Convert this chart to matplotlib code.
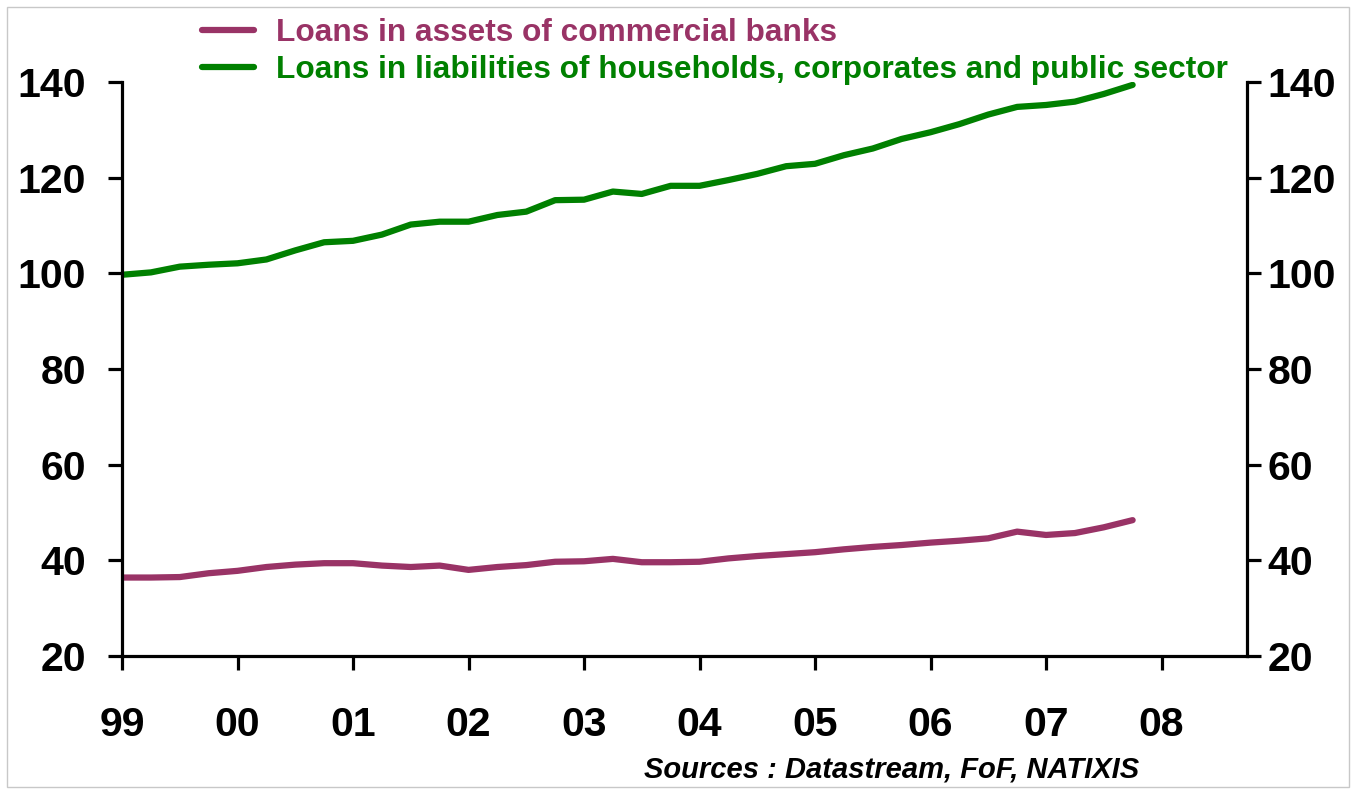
import numpy as np
import matplotlib
matplotlib.use("Agg")
import matplotlib.pyplot as plt
from matplotlib.patches import Rectangle

plt.rcParams["font.family"] = ["Liberation Sans", "DejaVu Sans"]
plt.rcParams["font.weight"] = "bold"

# quarterly observations, 1999Q1 .. 2007Q4
quarters = np.arange(1999.0, 2008.0, 0.25)

bank_loans = [36.4, 36.4, 36.5, 37.3, 37.8, 38.6, 39.1, 39.4,
              39.4, 38.9, 38.6, 38.9, 38.0, 38.6, 39.0, 39.7,
              39.8, 40.3, 39.6, 39.6, 39.7, 40.4, 40.9, 41.3,
              41.7, 42.3, 42.8, 43.2, 43.7, 44.1, 44.6, 46.0,
              45.3, 45.7, 46.9, 48.4]

sector_loans = [99.7, 100.2, 101.4, 101.8, 102.1, 102.9, 104.8, 106.5,
                106.8, 108.1, 110.2, 110.8, 110.8, 112.2, 112.9, 115.3,
                115.4, 117.1, 116.6, 118.3, 118.3, 119.5, 120.8, 122.4,
                122.9, 124.7, 126.1, 128.1, 129.5, 131.2, 133.2, 134.8,
                135.2, 135.9, 137.5, 139.4]

year_ticks = list(range(1999, 2009))
year_labels = ["99", "00", "01", "02", "03", "04", "05", "06", "07", "08"]
y_ticks = [20, 40, 60, 80, 100, 120, 140]

labels = ["Loans in assets of commercial banks",
          "Loans in liabilities of households, corporates and public sector"]
colors = ["#993366", "#008000"]

fig = plt.figure(figsize=(13.56, 7.91), dpi=100)
ax = fig.add_axes([0.090, 0.1707, 0.8296, 0.7256])

l1, = ax.plot(quarters, bank_loans, color=colors[0], lw=4.5, solid_capstyle="round")
l2, = ax.plot(quarters, sector_loans, color=colors[1], lw=4.5, solid_capstyle="round")

ax.set_xlim(1999, 2008.74)
ax.set_ylim(20, 140)
ax.set_xticks(year_ticks)
ax.set_xticklabels(year_labels)
ax.set_yticks(y_ticks)

for side in ["top", "right"]:
    ax.spines[side].set_visible(False)
for side in ["left", "bottom"]:
    ax.spines[side].set_linewidth(2.3)

ax.tick_params(axis="x", direction="out", length=10, width=2.3, pad=26, labelsize=29.5)
ax.tick_params(axis="y", direction="out", length=10, width=2.3, pad=16, labelsize=29.5)

ax2 = ax.twinx()
ax2.set_ylim(20, 140)
ax2.set_yticks(y_ticks)
for side in ["top", "left", "bottom"]:
    ax2.spines[side].set_visible(False)
ax2.spines["right"].set_linewidth(2.3)
ax2.tick_params(axis="y", direction="out", length=10, width=2.3, pad=5, labelsize=29.5)

leg = fig.legend([l1, l2], labels, loc="upper left", bbox_to_anchor=(0.149, 0.977),
                 frameon=False, fontsize=22.8, handlelength=1.65, handletextpad=0.7,
                 labelspacing=0.22, borderaxespad=0, borderpad=0)
for txt, c in zip(leg.get_texts(), colors):
    txt.set_color(c)

fig.text(0.840, 0.027, "Sources : Datastream, FoF, NATIXIS", ha="right", va="center",
         fontsize=21, style="italic", weight="bold")

fig.patches.append(Rectangle((0.005, 0.005), 0.99, 0.986, transform=fig.transFigure,
                             fill=False, edgecolor="#c8c8c8", lw=1.0))

fig.savefig("out.png", dpi=100)
